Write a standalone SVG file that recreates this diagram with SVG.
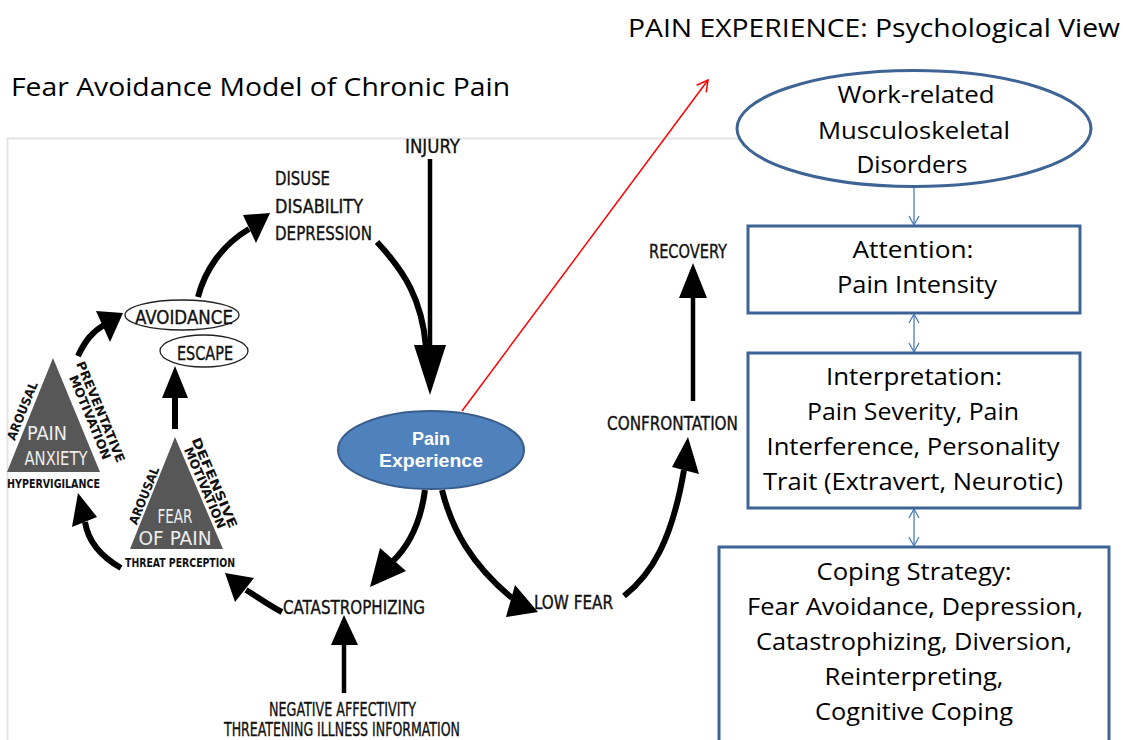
<svg xmlns="http://www.w3.org/2000/svg" width="1123" height="740" viewBox="0 0 1123 740">
<style>
.title{font-family:"Open Sans","Liberation Sans",sans-serif;font-size:26px;fill:#000}
.box{fill:#fff;stroke:#3E6496;stroke-width:3}
.bt{font-family:"Open Sans","Liberation Sans",sans-serif;font-size:24px;fill:#000;text-anchor:middle}
.lbl{font-family:"DejaVu Sans Condensed","Liberation Sans Narrow","Liberation Sans",sans-serif;font-size:19px;fill:#111;stroke:#111;stroke-width:0.35}
.sm{font-family:"DejaVu Sans Condensed","Liberation Sans Narrow","Liberation Sans",sans-serif;font-size:12.5px;font-weight:bold;fill:#111}
.tri{fill:#575757}
.tt{font-family:"DejaVu Sans Condensed","Liberation Sans Narrow","Liberation Sans",sans-serif;font-size:19px;fill:#eeeeee;text-anchor:middle}
.shaft{fill:none;stroke:#000;stroke-width:6;stroke-linecap:butt}
.thin{fill:none;stroke:#000;stroke-width:4.5}
.head{fill:#000}
.oval{fill:#fff;stroke:#222;stroke-width:1.3}
.blue{stroke:#4A7EBB;stroke-width:1.3;fill:none}
</style>
<defs>
<marker id="vb" markerUnits="userSpaceOnUse" markerWidth="14" markerHeight="14" refX="10" refY="6" orient="auto-start-reverse">
<path d="M1,1 L10,6 L1,11" fill="none" stroke="#4A7EBB" stroke-width="1.3"/>
</marker>
<marker id="vr" markerUnits="userSpaceOnUse" markerWidth="16" markerHeight="16" refX="12" refY="7" orient="auto">
<path d="M1,1 L12,7 L1,13" fill="none" stroke="#FF0000" stroke-width="1.5"/>
</marker>
</defs>

<g id="titles">
<text class="title" x="628" y="37" textLength="492" lengthAdjust="spacingAndGlyphs">PAIN EXPERIENCE: Psychological View</text>
<text class="title" x="11" y="96" textLength="499" lengthAdjust="spacingAndGlyphs">Fear Avoidance Model of Chronic Pain</text>
</g>

<g id="frame">
<path d="M7.5,740 L7.5,138.5 L745,138.5" fill="none" stroke="#e4e4e4" stroke-width="2"/>
</g>

<g id="connectors">
<path class="thin" d="M430,159 L430,347"/>
<polygon class="head" points="414,345 446,345 430,395"/>
<path class="shaft" d="M377,242 C405,272 422,300 426,347"/>
<path class="shaft" d="M425,490 C421,520 410,545 392,562"/>
<polygon class="head" points="370,587 380,548 406,571"/>
<path class="shaft" d="M442,490 C452,530 472,565 512,598"/>
<polygon class="head" points="538,612 515,585 506,617"/>
<path class="shaft" d="M282,612 C268,605 258,597 246,590"/>
<polygon class="head" points="225,573 235,602 254,578"/>
<path class="thin" d="M344,693 L344,643"/>
<polygon class="head" points="331,645 358,645 344,615"/>
<path class="shaft" d="M121,568 C100,556 88,541 85,522"/>
<polygon class="head" points="78,493 72,527 97,517"/>
<path class="shaft" d="M175,429 L175,396"/>
<polygon class="head" points="162,398 188,398 175,366"/>
<path class="shaft" d="M78,356 C85,341 92,332 104,325"/>
<polygon class="head" points="123,313 96,311 110,342"/>
<path class="shaft" d="M198,297 C205,270 222,245 249,229"/>
<polygon class="head" points="270,213 243,215 256,243"/>
<path class="shaft" d="M624,596 C652,574 672,540 684,470"/>
<polygon class="head" points="688,437 672,467 699,474"/>
<path class="thin" d="M693,401 L693,296"/>
<polygon class="head" points="679,298 707,298 693,263"/>
<line x1="462" y1="411" x2="708" y2="80" stroke="#FF0000" stroke-width="1.5" marker-end="url(#vr)"/>
<line class="blue" x1="914" y1="187" x2="914" y2="225" marker-end="url(#vb)"/>
<line class="blue" x1="914" y1="314" x2="914" y2="352" marker-start="url(#vb)" marker-end="url(#vb)"/>
<line class="blue" x1="914" y1="509" x2="914" y2="546" marker-start="url(#vb)" marker-end="url(#vb)"/>
</g>

<g id="injury"><text class="lbl" x="405" y="153" textLength="55" lengthAdjust="spacingAndGlyphs">INJURY</text></g>
<g id="disuse">
<text class="lbl" x="275" y="185" textLength="55" lengthAdjust="spacingAndGlyphs">DISUSE</text>
<text class="lbl" x="275" y="213" textLength="88" lengthAdjust="spacingAndGlyphs">DISABILITY</text>
<text class="lbl" x="275" y="240" textLength="97" lengthAdjust="spacingAndGlyphs">DEPRESSION</text>
</g>
<g id="recovery"><text class="lbl" x="649" y="258" textLength="78" lengthAdjust="spacingAndGlyphs">RECOVERY</text></g>
<g id="confrontation"><text class="lbl" x="607" y="430" textLength="131" lengthAdjust="spacingAndGlyphs">CONFRONTATION</text></g>
<g id="lowfear"><text class="lbl" x="534" y="609" textLength="79" lengthAdjust="spacingAndGlyphs">LOW FEAR</text></g>
<g id="catastrophizing"><text class="lbl" x="283" y="614" textLength="142" lengthAdjust="spacingAndGlyphs">CATASTROPHIZING</text></g>
<g id="negative">
<text class="lbl" x="269" y="716" font-size="16" textLength="147" lengthAdjust="spacingAndGlyphs">NEGATIVE AFFECTIVITY</text>
<text class="lbl" x="224" y="736" font-size="16" textLength="236" lengthAdjust="spacingAndGlyphs">THREATENING ILLNESS INFORMATION</text>
</g>

<g id="avoidance">
<ellipse class="oval" cx="182" cy="315" rx="57" ry="15"/>
<text class="lbl" x="135" y="324" font-size="17" textLength="98" lengthAdjust="spacingAndGlyphs">AVOIDANCE</text>
</g>
<g id="escape">
<ellipse class="oval" cx="204" cy="351" rx="44" ry="16"/>
<text class="lbl" x="177" y="360" font-size="17" textLength="56" lengthAdjust="spacingAndGlyphs">ESCAPE</text>
</g>

<g id="pain-anxiety">
<polygon class="tri" points="53,358 7,472 100,472"/>
<text class="tt" x="47" y="440" textLength="40" lengthAdjust="spacingAndGlyphs">PAIN</text>
<text class="tt" x="56" y="465" textLength="63" lengthAdjust="spacingAndGlyphs">ANXIETY</text>
<text class="sm" x="7" y="488" textLength="93" lengthAdjust="spacingAndGlyphs">HYPERVIGILANCE</text>
<text class="sm" transform="translate(30,414) rotate(-68)" x="0" y="-4" text-anchor="middle" textLength="62" lengthAdjust="spacingAndGlyphs">AROUSAL</text>
<text class="sm" transform="translate(77,413) rotate(67.6)" x="8" y="-18" text-anchor="middle" textLength="108" lengthAdjust="spacingAndGlyphs">PREVENTATIVE</text>
<text class="sm" transform="translate(77,413) rotate(67.6)" x="9" y="-6" text-anchor="middle" textLength="90" lengthAdjust="spacingAndGlyphs">MOTIVATION</text>
</g>

<g id="fear-of-pain">
<polygon class="tri" points="175,437 130,549 223,549"/>
<text class="tt" x="175" y="523" textLength="35" lengthAdjust="spacingAndGlyphs">FEAR</text>
<text class="tt" x="175" y="545" textLength="73" lengthAdjust="spacingAndGlyphs">OF PAIN</text>
<text class="sm" x="125" y="567" textLength="110" lengthAdjust="spacingAndGlyphs">THREAT PERCEPTION</text>
<text class="sm" transform="translate(150,498) rotate(-68)" x="0" y="-2" text-anchor="middle" textLength="61" lengthAdjust="spacingAndGlyphs">AROUSAL</text>
<text class="sm" transform="translate(197,488) rotate(66.8)" x="2" y="-14" text-anchor="middle" textLength="97" lengthAdjust="spacingAndGlyphs">DEFENSIVE</text>
<text class="sm" transform="translate(197,488) rotate(66.8)" x="3" y="-3" text-anchor="middle" textLength="87" lengthAdjust="spacingAndGlyphs">MOTIVATION</text>
</g>

<g id="pain-experience">
<ellipse cx="431" cy="450" rx="93" ry="39" fill="#4F81BD" stroke="#385D8A" stroke-width="2"/>
<text x="431" y="445" text-anchor="middle" font-family="Liberation Sans,Arial,sans-serif" font-weight="bold" font-size="18" fill="#fff">Pain</text>
<text x="431" y="467" text-anchor="middle" font-family="Liberation Sans,Arial,sans-serif" font-weight="bold" font-size="18" fill="#fff" textLength="104" lengthAdjust="spacingAndGlyphs">Experience</text>
</g>

<g id="wmsd">
<ellipse cx="914" cy="128.5" rx="177" ry="58" fill="#fff" stroke="#3E6496" stroke-width="3"/>
<text class="bt" x="916" y="103" textLength="157" lengthAdjust="spacingAndGlyphs">Work-related</text>
<text class="bt" x="914" y="139" textLength="192" lengthAdjust="spacingAndGlyphs">Musculoskeletal</text>
<text class="bt" x="912" y="173" textLength="111" lengthAdjust="spacingAndGlyphs">Disorders</text>
</g>

<g id="attention">
<rect class="box" x="748" y="226" width="332" height="87"/>
<text class="bt" x="913" y="258" textLength="121" lengthAdjust="spacingAndGlyphs">Attention:</text>
<text class="bt" x="917" y="293" textLength="160" lengthAdjust="spacingAndGlyphs">Pain Intensity</text>
</g>

<g id="interpretation">
<rect class="box" x="748" y="353" width="332" height="155"/>
<text class="bt" x="914" y="385" textLength="176" lengthAdjust="spacingAndGlyphs">Interpretation:</text>
<text class="bt" x="913" y="420" textLength="212" lengthAdjust="spacingAndGlyphs">Pain Severity, Pain</text>
<text class="bt" x="913" y="455" textLength="293" lengthAdjust="spacingAndGlyphs">Interference, Personality</text>
<text class="bt" x="913" y="490" textLength="300" lengthAdjust="spacingAndGlyphs">Trait (Extravert, Neurotic)</text>
</g>

<g id="coping">
<rect class="box" x="719" y="547" width="390" height="210"/>
<text class="bt" x="914" y="580" textLength="195" lengthAdjust="spacingAndGlyphs">Coping Strategy:</text>
<text class="bt" x="915" y="615" textLength="336" lengthAdjust="spacingAndGlyphs">Fear Avoidance, Depression,</text>
<text class="bt" x="914" y="650" textLength="316" lengthAdjust="spacingAndGlyphs">Catastrophizing, Diversion,</text>
<text class="bt" x="914" y="685" textLength="179" lengthAdjust="spacingAndGlyphs">Reinterpreting,</text>
<text class="bt" x="914" y="720" textLength="198" lengthAdjust="spacingAndGlyphs">Cognitive Coping</text>
</g>
</svg>
